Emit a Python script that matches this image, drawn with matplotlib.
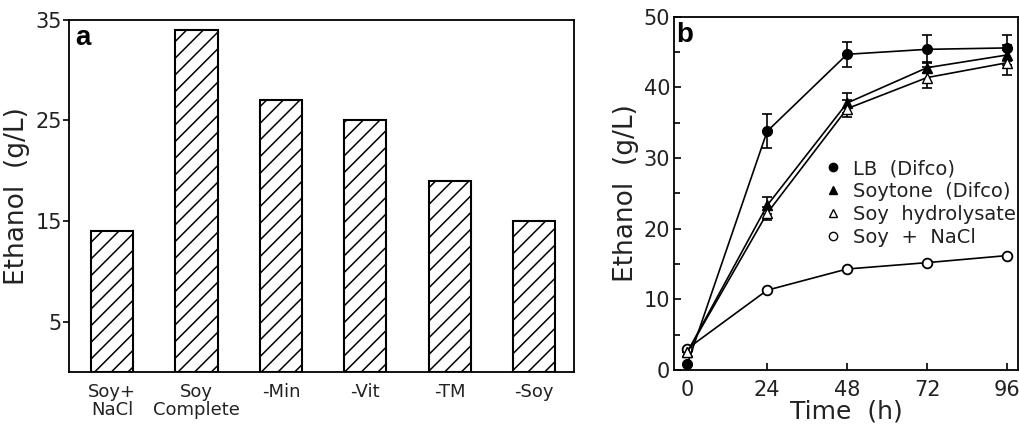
import matplotlib
matplotlib.use("Agg")
import matplotlib.pyplot as plt
from matplotlib.lines import Line2D

plt.rcParams['font.family'] = ['DejaVu Sans']
plt.rcParams['hatch.linewidth'] = 1.1

# panel a data
media = ["Soy+\nNaCl", "Soy\nComplete", "-Min", "-Vit", "-TM", "-Soy"]
ethanol_a = [14, 34, 27, 25, 19, 15]

# panel b data
hours = [0, 24, 48, 72, 96]
lb = [0.8, 33.8, 44.7, 45.4, 45.6]
lb_err = [0, 2.4, 1.8, 2.0, 1.8]
soytone = [2.5, 23.3, 37.8, 42.8, 44.6]
soytone_err = [0, 1.2, 1.4, 0.8, 1.4]
soy_hyd = [2.5, 22.2, 37.0, 41.4, 43.5]
soy_hyd_err = [0, 0.9, 1.2, 1.5, 1.8]
soy_nacl = [3.0, 11.3, 14.3, 15.2, 16.2]

fig = plt.figure(figsize=(10.2, 4.32), dpi=100)
txt = "#222222"

# ---- panel a
ax1 = fig.add_axes([0.0676, 0.139, 0.4951, 0.815])
x = list(range(len(media)))
ax1.bar(x, ethanol_a, width=0.5, color="white", edgecolor="black",
        hatch="//", linewidth=1.5)
ax1.set_xlim(-0.51, 5.47)
ax1.set_ylim(0, 35)
ax1.set_yticks([5, 15, 25, 35])
ax1.set_xticks(x)
ax1.set_xticklabels(media, fontsize=13, linespacing=1.0, color=txt)
ax1.tick_params(axis="x", length=0, pad=8)
ax1.tick_params(axis="y", direction="out", length=4, width=1.2, labelsize=15,
                pad=1, labelcolor=txt)
ax1.set_ylabel("Ethanol  (g/L)", fontsize=19, labelpad=4, color=txt)
for s in ax1.spines.values():
    s.set_linewidth(1.3)
ax1.text(0.012, 0.985, "a", transform=ax1.transAxes, fontsize=20,
         fontweight="bold", va="top", ha="left", family="Liberation Sans")

# ---- panel b
ax2 = fig.add_axes([0.661, 0.1435, 0.337, 0.8175])
kw = dict(color="black", lw=1.2, ms=7, capsize=3.5, elinewidth=1.2, capthick=1.2)
ax2.errorbar(hours, lb, yerr=lb_err, marker="o", mfc="black", **kw)
ax2.errorbar(hours, soytone, yerr=soytone_err, marker="^", mfc="black", **kw)
ax2.errorbar(hours, soy_hyd, yerr=soy_hyd_err, marker="^", mfc="white", **kw)
ax2.plot(hours, soy_nacl, marker="o", mfc="white", color="black", lw=1.2, ms=7, mew=1.3)
ax2.set_xlim(-3.9, 99.3)
ax2.set_ylim(0, 50)
ax2.set_xticks(hours)
ax2.set_yticks(range(0, 51, 10))
ax2.set_yticks(range(5, 50, 10), minor=True)
ax2.tick_params(which="both", direction="in", width=1.2, labelsize=15,
                labelcolor=txt)
ax2.tick_params(which="major", length=5)
ax2.tick_params(which="minor", length=4)
ax2.tick_params(axis="x", pad=7)
ax2.tick_params(axis="y", pad=3)
ax2.set_xlabel("Time  (h)", fontsize=18, labelpad=0, color=txt)
ax2.set_ylabel("Ethanol  (g/L)", fontsize=19, labelpad=3, color=txt)
for s in ax2.spines.values():
    s.set_linewidth(1.3)
ax2.text(0.006, 0.985, "b", transform=ax2.transAxes, fontsize=20,
         fontweight="bold", va="top", ha="left", family="Liberation Sans")

handles = [
    Line2D([], [], ls="none", marker="o", color="black", mfc="black", ms=6),
    Line2D([], [], ls="none", marker="^", color="black", mfc="black", ms=6),
    Line2D([], [], ls="none", marker="^", color="black", mfc="white", ms=6),
    Line2D([], [], ls="none", marker="o", color="black", mfc="white", ms=6),
]
labels = ["LB  (Difco)", "Soytone  (Difco)", "Soy  hydrolysate", "Soy  +  NaCl"]
ax2.legend(handles, labels, loc="upper left", bbox_to_anchor=(0.439, 0.597),
           frameon=False, fontsize=14, handlelength=0.8, handletextpad=0.65,
           labelspacing=0.2, borderaxespad=0, borderpad=0, labelcolor=txt)

fig.savefig("out.png", dpi=100)
